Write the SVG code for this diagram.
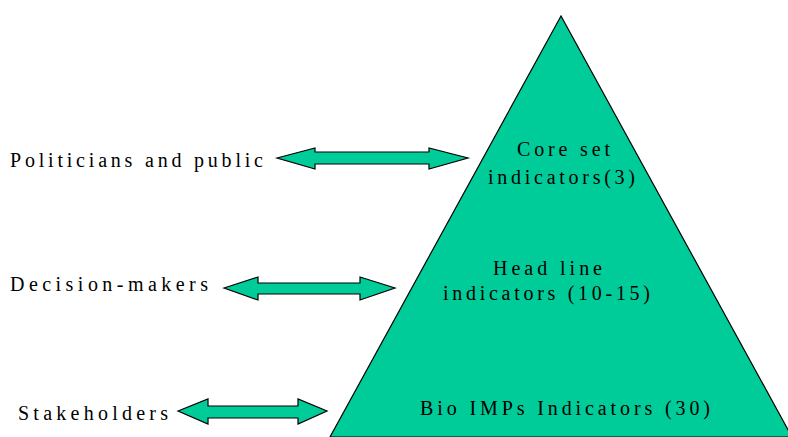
<svg xmlns="http://www.w3.org/2000/svg" width="788" height="437" viewBox="0 0 788 437">
<style>
.shape{fill:#00CC99;stroke:#000;stroke-width:1.2;stroke-linejoin:miter}
.t{font-family:"Liberation Serif","Times New Roman",serif;font-size:20px;fill:#000}
</style>
<rect width="788" height="437" fill="#fff"/>
<g id="pyramid">
<polygon class="shape" points="561,16 330,437 792,437"/>
<text class="t" x="517" y="156" textLength="93" lengthAdjust="spacing">Core set</text>
<text class="t" x="488" y="184" textLength="147" lengthAdjust="spacing">indicators(3)</text>
<text class="t" x="493" y="275" textLength="109" lengthAdjust="spacing">Head line</text>
<text class="t" x="443" y="300" textLength="207" lengthAdjust="spacing">indicators (10-15)</text>
<text class="t" x="420" y="415" textLength="290" lengthAdjust="spacing">Bio IMPs Indicators (30)</text>
</g>
<g id="politicians">
<text class="t" x="10" y="167" textLength="253" lengthAdjust="spacing">Politicians and public</text>
</g>
<g id="decision-makers">
<text class="t" x="10" y="291" textLength="198" lengthAdjust="spacing">Decision-makers</text>
</g>
<g id="stakeholders">
<text class="t" x="18" y="420" textLength="150" lengthAdjust="spacing">Stakeholders</text>
</g>
<g id="connectors">
<path class="shape" d="M277,158 L315,148 L315,152 L429,152 L429,148 L468,158 L429,169 L429,164 L315,164 L315,169 Z"/>
<path class="shape" d="M224,288 L258,277 L258,283 L360,283 L360,277 L395,288 L360,300 L360,294 L258,294 L258,300 Z"/>
<path class="shape" d="M178,411 L208,399 L208,406 L298,406 L298,399 L327,411 L298,424 L298,418 L208,418 L208,424 Z"/>
</g>
</svg>
